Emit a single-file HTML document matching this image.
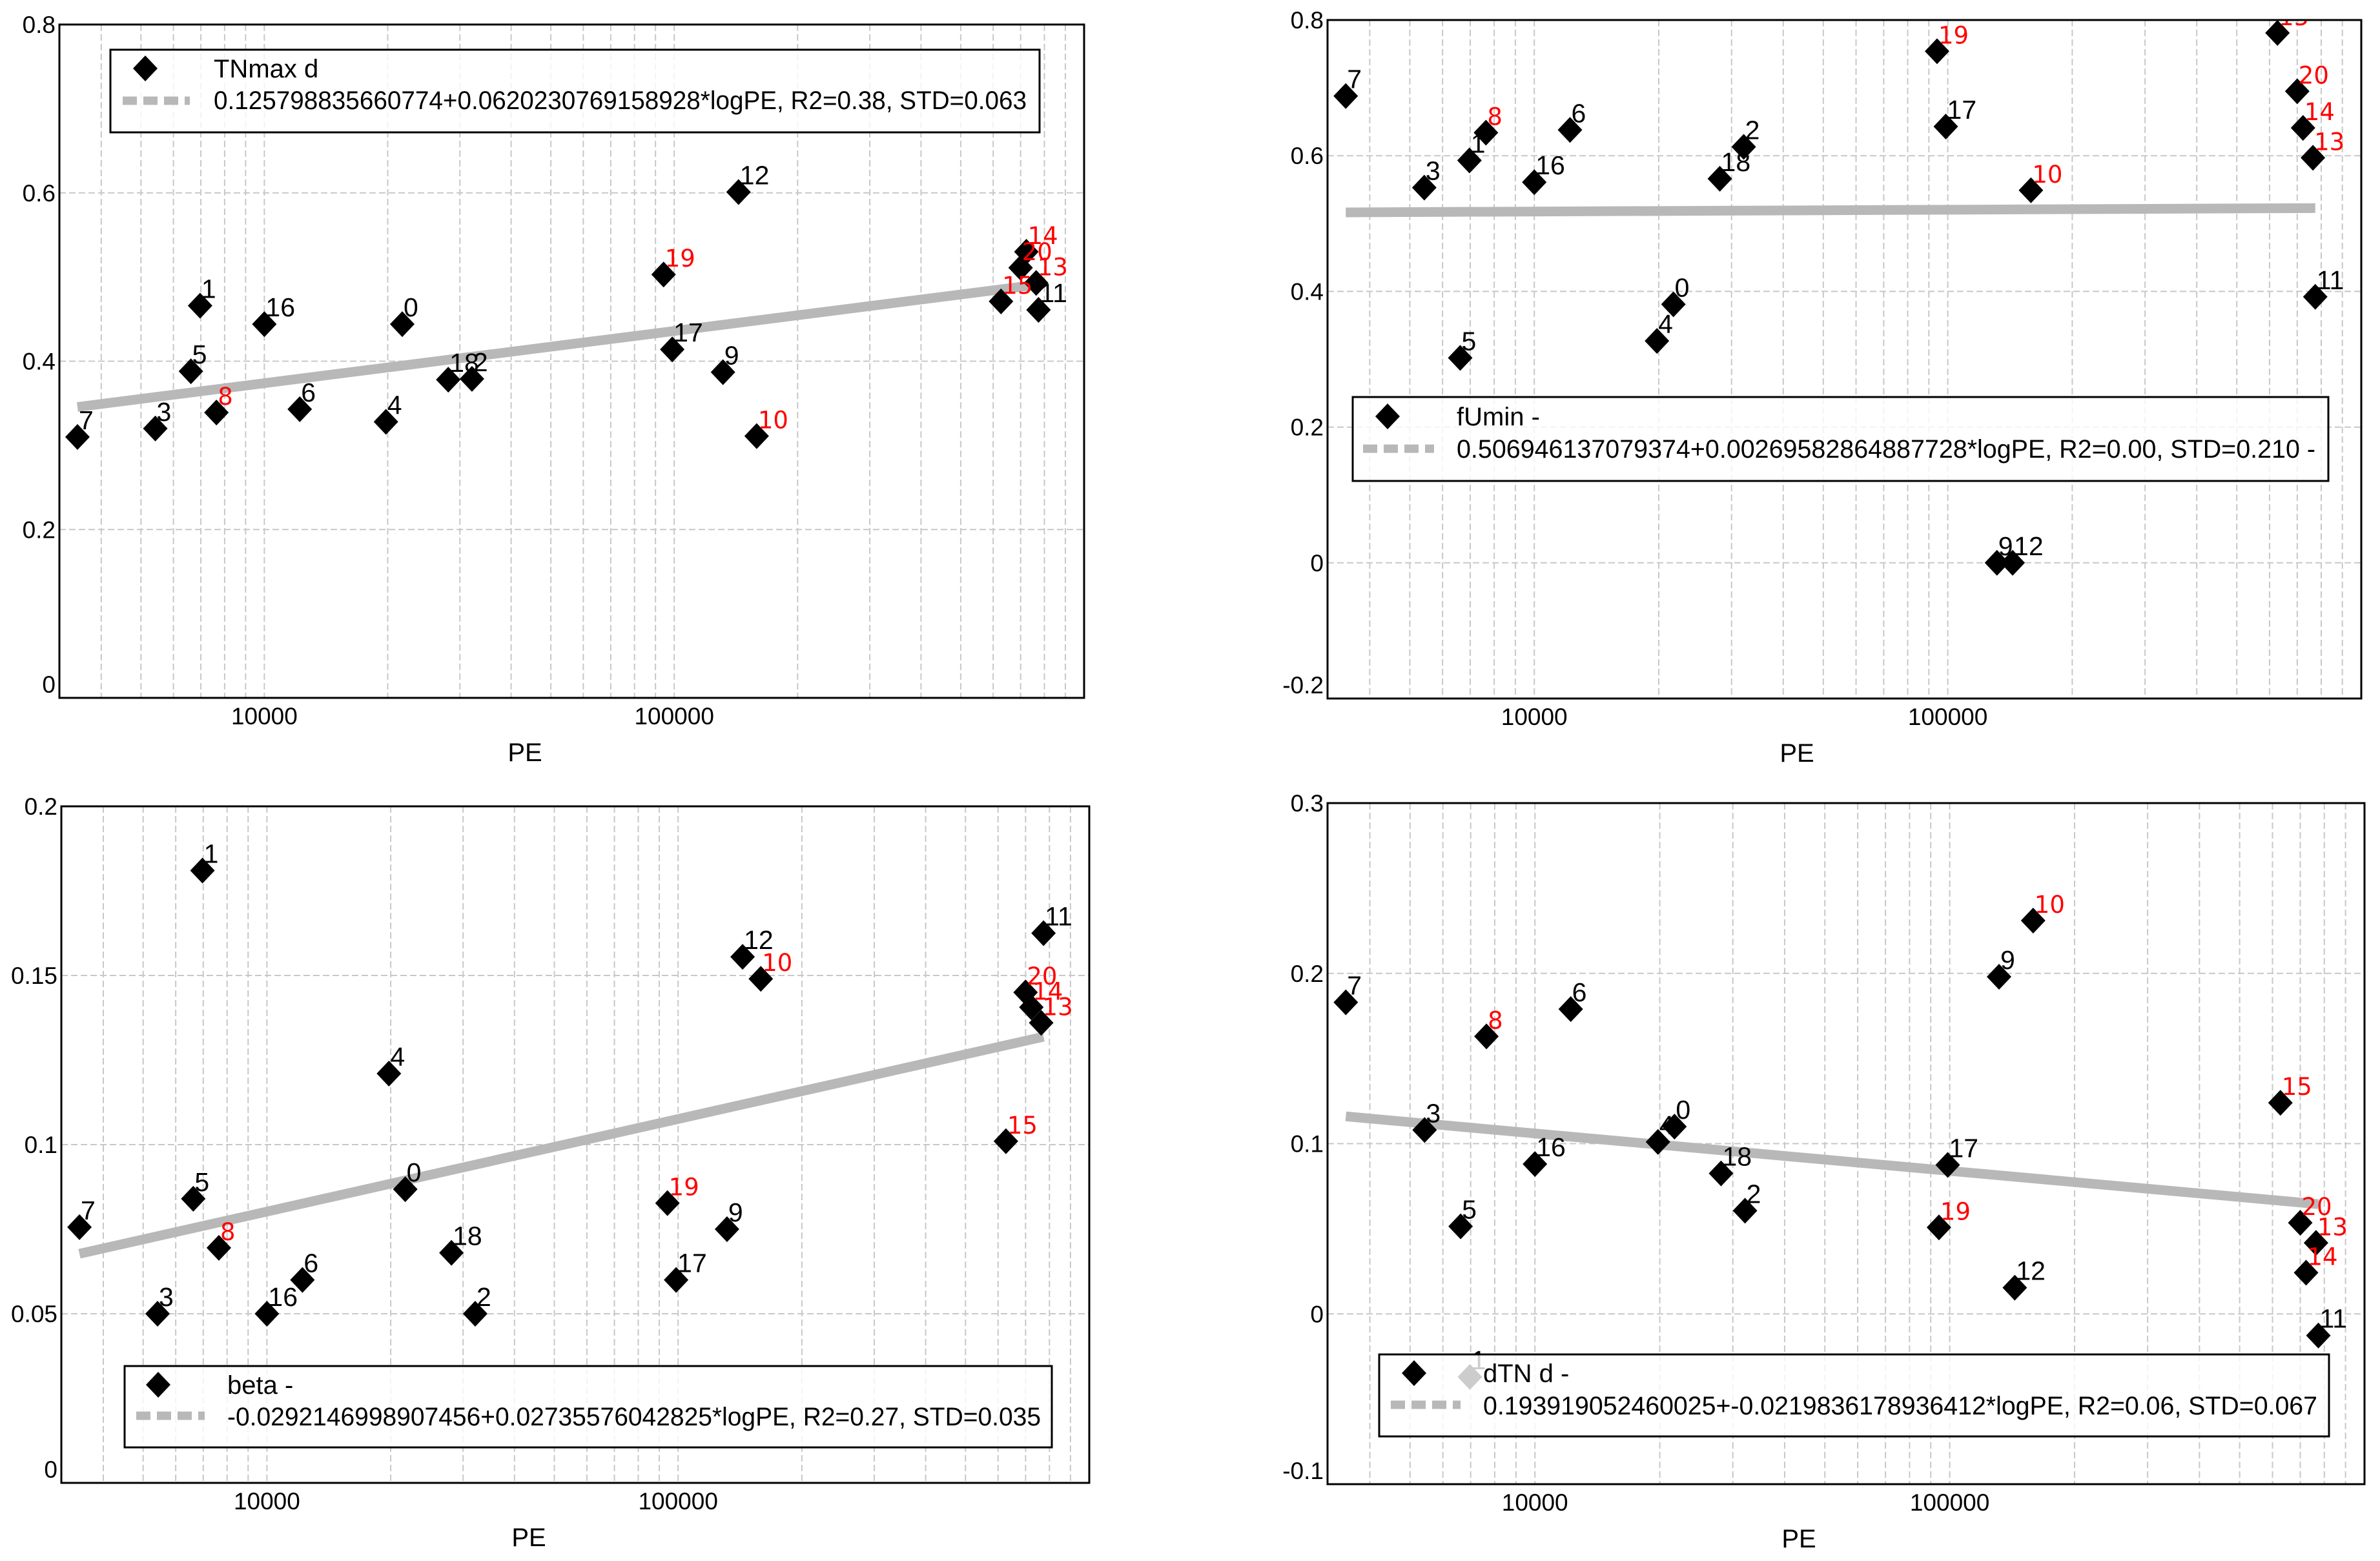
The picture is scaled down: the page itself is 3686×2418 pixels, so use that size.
<!DOCTYPE html>
<html><head><meta charset="utf-8"><style>
html,body{margin:0;padding:0;background:#fff;}
svg{display:block;}
</style></head><body>
<svg id="fig" xmlns="http://www.w3.org/2000/svg" width="3686" height="2418" viewBox="0 0 3686 2418"></svg>
<script>
// ---- data ----
const pointIds = [0,1,2,3,4,5,6,7,8,9,10,11,12,13,14,15,16,17,18,19,20];
const peValues = [21700,6970,32100,5420,19800,6620,12200,3500,7640,131500,158900,774000,143500,764000,723000,627000,10000,98900,28100,94200,700000];
const redIds = [8,10,13,14,15,19,20];
const tnmaxValues = [0.444,0.466,0.379,0.32,0.328,0.388,0.343,0.31,0.339,0.387,0.311,0.461,0.601,0.493,0.530,0.471,0.444,0.414,0.378,0.503,0.511];
const fuminValues = [0.381,0.593,0.613,0.553,0.327,0.302,0.638,0.688,0.634,0,0.549,0.392,0,0.597,0.641,0.781,0.561,0.643,0.566,0.754,0.695];
const betaValues = [0.0868,0.181,0.05,0.05,0.121,0.084,0.060,0.0756,0.0695,0.075,0.149,0.1625,0.1555,0.136,0.1406,0.101,0.05,0.060,0.068,0.0827,0.145];
const dtnValues = [0.110,-0.037,0.0606,0.108,0.101,0.0514,0.179,0.183,0.163,0.198,0.231,-0.0127,0.0154,0.0417,0.0242,0.124,0.088,0.0875,0.0825,0.0508,0.0535];
const trendIntercepts = [0.125798835660774,0.506946137079374,-0.0292146998907456,0.193919052460025];
const trendSlopes = [0.0620230769158928,0.00269582864887728,0.02735576042825,-0.0219836178936412];
const legendTitles = ["TNmax d","fUmin -","beta -","dTN d -"];
const legendFormulas = ["0.125798835660774+0.0620230769158928*logPE, R2=0.38, STD=0.063",
 "0.506946137079374+0.00269582864887728*logPE, R2=0.00, STD=0.210  -",
 "-0.0292146998907456+0.02735576042825*logPE, R2=0.27, STD=0.035",
 "0.193919052460025+-0.0219836178936412*logPE, R2=0.06, STD=0.067"];
const yTicks1 = [0,0.2,0.4,0.6,0.8];
const yTicks2 = [-0.2,0,0.2,0.4,0.6,0.8];
const yTicks3 = [0,0.05,0.1,0.15,0.2];
const yTicks4 = [-0.1,0,0.1,0.2,0.3];
const yTickLabels1 = ["0","0.2","0.4","0.6","0.8"];
const yTickLabels2 = ["-0.2","0","0.2","0.4","0.6","0.8"];
const yTickLabels3 = ["0","0.05","0.1","0.15","0.2"];
const yTickLabels4 = ["-0.1","0","0.1","0.2","0.3"];
const xTickValues = [10000,100000];
const xTickLabels = ["10000","100000"];
const xDomain = [3162.28, 1000000];

// ---- layout (not data) ----
const panels = [
 {name:"tnmax",L:92,R:1679,T:38,B:1081,px:813,y0:0,y1:0.8,vals:tnmaxValues,ticks:yTicks1,tl:yTickLabels1,
  lg:{l:171,r:1610,t:77,b:205,dx:225,dy:106,tx:331,b1:120,b2:169,sx:190,sx2:294,sy:156,w:1259}},
 {name:"fumin",L:2056,R:3657,T:31,B:1082,px:2783,y0:-0.2,y1:0.8,vals:fuminValues,ticks:yTicks2,tl:yTickLabels2,
  lg:{l:2095,r:3606,t:615,b:745,dx:2149,dy:645,tx:2256,b1:659,b2:709,sx:2111,sx2:2221,sy:695,w:1330}},
 {name:"beta",L:95,R:1687,T:1249,B:2297,px:819,y0:0,y1:0.2,vals:betaValues,ticks:yTicks3,tl:yTickLabels3,
  lg:{l:193,r:1629,t:2116,b:2242,dx:245,dy:2145,tx:352,b1:2159,b2:2208,sx:211,sx2:317,sy:2193,w:1260}},
 {name:"dtn",L:2056,R:3662,T:1244,B:2299,px:2786,y0:-0.1,y1:0.3,vals:dtnValues,ticks:yTicks4,tl:yTickLabels4,
  lg:{l:2136,r:3607,t:2098,b:2225,dx:2190,dy:2127,tx:2297,b1:2141,b2:2191,sx:2154,sx2:2262,sy:2176,w:1292}}
];
const NS="http://www.w3.org/2000/svg";
const svg=document.getElementById('fig');
function mk(tag,attrs,parent){const e=document.createElementNS(NS,tag);for(const k in attrs)e.setAttribute(k,attrs[k]);(parent||svg).appendChild(e);return e;}
const lx0=Math.log10(xDomain[0]), lx1=Math.log10(xDomain[1]);

panels.forEach((p,pi)=>{
 const g=mk('g',{});
 
 
 const xs=v=>p.L+(Math.log10(v)-lx0)/(lx1-lx0)*(p.R-p.L);
 const ys=v=>p.B-(v-p.y0)/(p.y1-p.y0)*(p.B-p.T);
 const cid='clip'+pi;
 const cp=mk('clipPath',{id:cid},g);mk('rect',{x:p.L,y:p.T,width:p.R-p.L,height:p.B-p.T},cp);
 const grid=mk('g',{stroke:'#c8c8c8','stroke-width':2,'stroke-dasharray':'10,5'},g);
 
 
 for(let d=3;d<=5;d++)for(let m=1;m<=9;m++){const v=m*Math.pow(10,d);if(v<=xDomain[0]||v>=xDomain[1])continue;const x=xs(v);mk('line',{x1:x,x2:x,y1:p.T,y2:p.B},grid);}
 p.ticks.forEach(t=>{const y=ys(t);if(y>p.T+2&&y<p.B-2)mk('line',{x1:p.L,x2:p.R,y1:y,y2:y},grid);});
 p.ticks.forEach((t,i)=>{let y=ys(t)+13;if(i===0)y-=21;const tx=mk('text',{x:p.L-6,y:y,'text-anchor':'end','font-family':'Liberation Sans, sans-serif','font-size':37},g);
  
  
  tx.textContent=p.tl[i];});
 xTickValues.forEach((v,i)=>{const tx=mk('text',{x:xs(v),y:p.B+41,'text-anchor':'middle','font-family':'Liberation Sans, sans-serif','font-size':37},g);
  
  
  tx.textContent=xTickLabels[i];});
 const xl=mk('text',{x:p.px,y:p.B+98,'text-anchor':'middle','font-family':'Liberation Sans, sans-serif','font-size':40},g);
 
 
 xl.textContent='PE';
 const plot=mk('g',{'clip-path':'url(#'+cid+')'},g);
 const pmin=Math.min(...peValues), pmax=Math.max(...peValues);
 const tr=mk('line',{x1:xs(pmin),y1:ys(trendIntercepts[pi]+trendSlopes[pi]*Math.log10(pmin)),x2:xs(pmax),y2:ys(trendIntercepts[pi]+trendSlopes[pi]*Math.log10(pmax)),stroke:'#b8b8b8','stroke-width':15},plot);
 
 
 pointIds.forEach((id,i)=>{
  const cx=xs(peValues[i]), cy=ys(p.vals[i]);
  const d=mk('polygon',{points:`${cx},${cy-20} ${cx+19},${cy} ${cx},${cy+20} ${cx-19},${cy}`,fill:'#000'},plot);
  
  
 });
 pointIds.forEach((id,i)=>{
  const cx=xs(peValues[i]), cy=ys(p.vals[i]);
  const red=redIds.includes(id);
  const t=mk('text',{x:cx+2,y:cy-12,fill:red?'#ff0000':'#000','font-family':red?'DejaVu Sans, sans-serif':'Liberation Sans, sans-serif','font-size':red?37:41},plot);
  
  
  t.textContent=String(id);
 });
 const fr=mk('rect',{x:p.L,y:p.T,width:p.R-p.L,height:p.B-p.T,fill:'none',stroke:'#000','stroke-width':3},g);
 
 
 const lg=p.lg;
 const L=mk('g',{},g);
 
 
 mk('rect',{x:lg.l,y:lg.t,width:lg.r-lg.l,height:lg.b-lg.t,fill:'#fff','fill-opacity':0.8,stroke:'#000','stroke-width':3},L);
 const ld=mk('polygon',{points:`${lg.dx},${lg.dy-20} ${lg.dx+19},${lg.dy} ${lg.dx},${lg.dy+20} ${lg.dx-19},${lg.dy}`,fill:'#000'},L);
 
 
 const ll=mk('line',{x1:lg.sx,x2:lg.sx2,y1:lg.sy,y2:lg.sy,stroke:'#b8b8b8','stroke-width':13,'stroke-dasharray':'22,10'},L);
 
 
 const t1=mk('text',{x:lg.tx,y:lg.b1,'font-family':'Liberation Sans, sans-serif','font-size':40},L);
 
 
 t1.textContent=legendTitles[pi];
 const t2=mk('text',{x:lg.tx,y:lg.b2,'font-family':'Liberation Sans, sans-serif','font-size':40,textLength:lg.w,lengthAdjust:'spacingAndGlyphs'},L);
 
 
 t2.textContent=legendFormulas[pi];
});
</script>
</body></html>
